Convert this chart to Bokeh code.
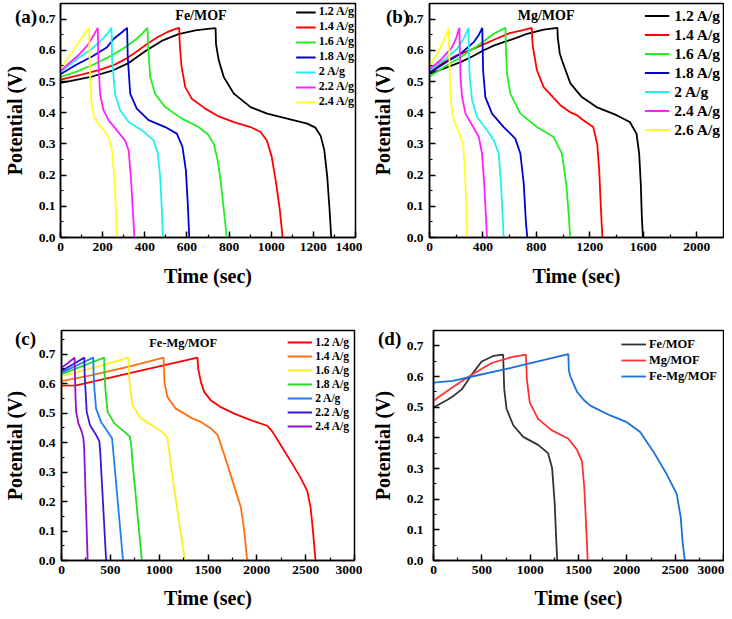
from bokeh.plotting import figure
from bokeh.models import Legend, LegendItem, Label, Div, FixedTicker, PrintfTickFormatter, Range1d
from bokeh.layouts import column, row
from bokeh.embed import file_html
from bokeh.resources import INLINE

FONT = "Liberation Serif"

# ---------------- (a) Fe/MOF ----------------
fe_labels = ["1.2 A/g", "1.4 A/g", "1.6 A/g", "1.8 A/g", "2 A/g", "2.2 A/g", "2.4 A/g"]
fe_t_12 = [0, 50, 150, 250, 320, 400, 480, 560, 640, 700, 736, 738, 751, 775, 823, 902, 981, 1076, 1171, 1210, 1235, 1252, 1266, 1277, 1285]
fe_v_12 = [0.496, 0.502, 0.516, 0.536, 0.558, 0.596, 0.630, 0.652, 0.664, 0.669, 0.671, 0.62, 0.568, 0.514, 0.461, 0.418, 0.397, 0.381, 0.365, 0.352, 0.325, 0.28, 0.194, 0.088, 0.0]
fe_t_14 = [0, 100, 190, 260, 316, 354, 411, 460, 506, 540, 563, 566, 574, 592, 623, 687, 745, 823, 902, 950, 980, 1002, 1022, 1041, 1054]
fe_v_14 = [0.506, 0.522, 0.538, 0.555, 0.575, 0.592, 0.620, 0.642, 0.658, 0.667, 0.672, 0.62, 0.55, 0.482, 0.445, 0.413, 0.39, 0.37, 0.354, 0.338, 0.31, 0.26, 0.18, 0.088, 0.0]
fe_t_16 = [0, 70, 149, 228, 307, 362, 390, 413, 416, 426, 449, 497, 576, 655, 700, 728, 748, 762, 778, 789]
fe_v_16 = [0.514, 0.530, 0.552, 0.578, 0.610, 0.637, 0.655, 0.672, 0.61, 0.514, 0.460, 0.418, 0.381, 0.354, 0.33, 0.30, 0.24, 0.17, 0.07, 0.0]
fe_t_18 = [0, 70, 150, 221, 253, 290, 316, 319, 331, 362, 418, 497, 552, 579, 595, 604, 611]
fe_v_18 = [0.523, 0.552, 0.58, 0.61, 0.637, 0.657, 0.672, 0.58, 0.46, 0.413, 0.376, 0.354, 0.333, 0.29, 0.216, 0.109, 0.0]
fe_t_20 = [0, 70, 149, 196, 225, 242, 245, 259, 283, 323, 386, 441, 462, 473, 481, 486]
fe_v_20 = [0.530, 0.568, 0.605, 0.634, 0.655, 0.672, 0.57, 0.46, 0.408, 0.37, 0.344, 0.312, 0.269, 0.194, 0.088, 0.0]
fe_t_22 = [0, 38, 85, 133, 157, 177, 180, 188, 204, 228, 267, 307, 323, 334, 343, 351]
fe_v_22 = [0.534, 0.557, 0.584, 0.62, 0.648, 0.672, 0.56, 0.46, 0.408, 0.376, 0.344, 0.31, 0.28, 0.194, 0.09, 0.0]
fe_t_24 = [0, 38, 77, 109, 136, 139, 146, 157, 172, 204, 228, 244, 255, 263, 267]
fe_v_24 = [0.541, 0.578, 0.616, 0.648, 0.672, 0.55, 0.44, 0.395, 0.37, 0.345, 0.322, 0.28, 0.194, 0.088, 0.0]
fe_xticks = [0, 200, 400, 600, 800, 1000, 1200, 1400]
fe_xminor = [100, 300, 500, 700, 900, 1100, 1300]

# ---------------- (b) Mg/MOF ----------------
mg_labels = ["1.2 A/g", "1.4 A/g", "1.6 A/g", "1.8 A/g", "2 A/g", "2.4 A/g", "2.6 A/g"]
mg_t_12 = [0, 100, 232, 320, 406, 480, 555, 650, 730, 854, 957, 960, 975, 991, 1053, 1140, 1250, 1400, 1499, 1549, 1569, 1581, 1589, 1597]
mg_v_12 = [0.525, 0.54, 0.562, 0.58, 0.60, 0.615, 0.626, 0.64, 0.653, 0.666, 0.672, 0.64, 0.59, 0.568, 0.495, 0.45, 0.418, 0.392, 0.37, 0.333, 0.269, 0.173, 0.066, 0.0]
mg_t_14 = [0, 100, 200, 300, 400, 500, 600, 700, 765, 768, 774, 804, 854, 979, 1051, 1103, 1151, 1225, 1255, 1270, 1283, 1294]
mg_v_14 = [0.53, 0.56, 0.583, 0.60, 0.618, 0.637, 0.655, 0.665, 0.672, 0.64, 0.61, 0.536, 0.482, 0.424, 0.402, 0.392, 0.376, 0.354, 0.30, 0.216, 0.088, 0.0]
mg_t_16 = [0, 107, 232, 300, 381, 481, 530, 568, 572, 580, 605, 680, 804, 929, 991, 1023, 1043, 1053]
mg_v_16 = [0.515, 0.546, 0.578, 0.598, 0.621, 0.653, 0.664, 0.672, 0.60, 0.525, 0.461, 0.397, 0.354, 0.322, 0.269, 0.173, 0.066, 0.0]
mg_t_18 = [0, 107, 232, 331, 370, 395, 398, 401, 418, 468, 555, 642, 680, 705, 722, 732]
mg_v_18 = [0.527, 0.557, 0.589, 0.626, 0.65, 0.672, 0.60, 0.536, 0.45, 0.397, 0.354, 0.317, 0.269, 0.173, 0.045, 0.0]
mg_t_20 = [0, 107, 207, 256, 292, 295, 301, 319, 356, 431, 481, 518, 535, 550, 555]
mg_v_20 = [0.535, 0.568, 0.605, 0.637, 0.672, 0.60, 0.514, 0.44, 0.386, 0.344, 0.312, 0.269, 0.173, 0.045, 0.0]
mg_t_24 = [0, 82, 169, 200, 224, 227, 232, 244, 269, 319, 369, 393, 411, 426, 430]
mg_v_24 = [0.54, 0.568, 0.61, 0.64, 0.672, 0.60, 0.514, 0.45, 0.397, 0.36, 0.322, 0.269, 0.162, 0.034, 0.0]
mg_t_26 = [0, 57, 107, 130, 144, 147, 152, 162, 182, 219, 251, 264, 274, 281]
mg_v_26 = [0.55, 0.589, 0.632, 0.655, 0.672, 0.60, 0.514, 0.43, 0.376, 0.338, 0.30, 0.226, 0.109, 0.0]
mg_xticks = [0, 400, 800, 1200, 1600, 2000]
mg_xminor = [200, 600, 1000, 1400, 1800]

# ---------------- (c) Fe-Mg/MOF ----------------
fm_labels = ["1.2 A/g", "1.4 A/g", "1.6 A/g", "1.8 A/g", "2 A/g", "2.2 A/g", "2.4 A/g"]
fm_t_12 = [0, 150, 500, 1000, 1392, 1400, 1428, 1462, 1530, 1632, 1768, 1938, 2108, 2159, 2244, 2346, 2448, 2516, 2550, 2574, 2591, 2601]
fm_v_12 = [0.593, 0.594, 0.62, 0.658, 0.688, 0.65, 0.604, 0.571, 0.543, 0.52, 0.498, 0.476, 0.457, 0.437, 0.392, 0.337, 0.281, 0.236, 0.181, 0.103, 0.036, 0.0]
fm_t_14 = [0, 300, 700, 1045, 1050, 1054, 1085, 1170, 1340, 1428, 1530, 1598, 1666, 1751, 1836, 1870, 1897, 1904]
fm_v_14 = [0.608, 0.628, 0.658, 0.688, 0.65, 0.604, 0.554, 0.515, 0.482, 0.47, 0.448, 0.426, 0.359, 0.27, 0.181, 0.103, 0.013, 0.0]
fm_t_16 = [0, 340, 685, 690, 700, 728, 813, 949, 1051, 1085, 1119, 1187, 1238, 1265]
fm_v_16 = [0.624, 0.655, 0.688, 0.64, 0.593, 0.526, 0.482, 0.454, 0.431, 0.415, 0.326, 0.169, 0.058, 0.0]
fm_t_18 = [0, 220, 437, 440, 449, 473, 541, 643, 700, 714, 728, 823]
fm_v_18 = [0.632, 0.66, 0.688, 0.64, 0.582, 0.504, 0.465, 0.437, 0.42, 0.39, 0.33, 0.0]
fm_t_20 = [0, 160, 325, 329, 337, 354, 405, 473, 517, 530, 630]
fm_v_20 = [0.637, 0.662, 0.688, 0.63, 0.582, 0.515, 0.47, 0.437, 0.415, 0.37, 0.0]
fm_t_22 = [0, 115, 233, 237, 245, 258, 292, 354, 388, 398, 457]
fm_v_22 = [0.643, 0.665, 0.688, 0.63, 0.582, 0.504, 0.459, 0.426, 0.404, 0.36, 0.0]
fm_t_24 = [0, 60, 134, 138, 143, 150, 173, 207, 224, 232, 268]
fm_v_24 = [0.654, 0.668, 0.688, 0.62, 0.56, 0.504, 0.465, 0.437, 0.415, 0.38, 0.0]
fm_xticks = [0, 500, 1000, 1500, 2000, 2500, 3000]
fm_xminor = [250, 750, 1250, 1750, 2250, 2750]

# ---------------- (d) comparison at 1.2 A/g ----------------
cmp_labels = ["Fe/MOF", "Mg/MOF", "Fe-Mg/MOF"]
cmp_t_fe = [0, 154, 220, 292, 395, 498, 618, 721, 725, 732, 756, 825, 928, 1082, 1185, 1227, 1254, 1268, 1280]
cmp_v_fe = [0.499, 0.526, 0.54, 0.558, 0.606, 0.649, 0.667, 0.671, 0.62, 0.558, 0.494, 0.441, 0.403, 0.377, 0.35, 0.302, 0.185, 0.078, 0.0]
cmp_t_mg = [0, 189, 395, 601, 807, 955, 960, 966, 996, 1082, 1220, 1392, 1485, 1536, 1560, 1578, 1595]
cmp_v_mg = [0.521, 0.563, 0.606, 0.644, 0.663, 0.671, 0.64, 0.59, 0.515, 0.462, 0.425, 0.398, 0.361, 0.323, 0.238, 0.121, 0.0]
cmp_t_fm = [0, 200, 400, 800, 1395, 1400, 1416, 1450, 1485, 1550, 1622, 1828, 2000, 2138, 2275, 2413, 2516, 2557, 2578, 2600]
cmp_v_fm = [0.58, 0.586, 0.6, 0.628, 0.673, 0.62, 0.6, 0.575, 0.55, 0.525, 0.505, 0.473, 0.451, 0.419, 0.355, 0.281, 0.217, 0.142, 0.057, 0.0]
cmp_xticks = [0, 500, 1000, 1500, 2000, 2500, 3000]
cmp_xminor = [250, 750, 1250, 1750, 2250, 2750]

y_ticks = [0.0, 0.1, 0.2, 0.3, 0.4, 0.5, 0.6, 0.7]
y_minor = [0.05, 0.15, 0.25, 0.35, 0.45, 0.55, 0.65, 0.75]

fe_colors = ["#000000", "#FF0000", "#22EE22", "#0000D0", "#22F0F0", "#FF22FF", "#FFFF22"]
mg_colors = ["#000000", "#FF0000", "#22EE22", "#0000D0", "#22F0F0", "#FF22FF", "#FFFF22"]
fm_colors = ["#FF0000", "#FF7010", "#FFEE22", "#22DD22", "#2080F0", "#3818D0", "#9010D0"]
cmp_colors = ["#333333", "#FF3030", "#1A70D8"]


def make_panel(series, labels, colors, width, height, borders, x_end, y_end,
               xticks, xminor, ylab_standoff, xtitle_standoff, legend_font, legend_row,
               glyph_w, standoff, margin):
    left, right, top, bottom = borders
    p = figure(width=width, height=height, output_backend="svg", toolbar_location=None,
               x_range=Range1d(0, x_end), y_range=Range1d(0, y_end),
               min_border_left=left, min_border_right=right,
               min_border_top=top, min_border_bottom=bottom,
               background_fill_color="white", border_fill_color="white")
    p.xgrid.visible = False
    p.ygrid.visible = False
    p.outline_line_color = "black"
    p.outline_line_width = 1.5
    p.outline_line_alpha = 1.0
    items = []
    for (t, v), lab, col in zip(series, labels, colors):
        r = p.line(t, v, line_color=col, line_width=1.8)
        items.append(LegendItem(label=lab, renderers=[r]))
    p.xaxis.ticker = FixedTicker(ticks=xticks, minor_ticks=xminor)
    p.yaxis.ticker = FixedTicker(ticks=y_ticks, minor_ticks=y_minor)
    p.yaxis.formatter = PrintfTickFormatter(format="%.1f")
    for ax in (p.xaxis[0], p.yaxis[0]):
        ax.axis_line_width = 1.5
        ax.axis_line_color = "black"
        ax.major_tick_in = 6
        ax.major_tick_out = 0
        ax.minor_tick_in = 3
        ax.minor_tick_out = 0
        ax.major_tick_line_width = 1.5
        ax.minor_tick_line_width = 1.2
        ax.major_label_text_font = FONT
        ax.major_label_text_font_style = "bold"
        ax.major_label_text_font_size = "13.5px"
        ax.major_label_text_color = "black"
        ax.axis_label_text_font = FONT
        ax.axis_label_text_font_style = "bold"
        ax.axis_label_text_font_size = "20px"
        ax.axis_label_text_color = "black"
    p.xaxis.axis_label = "Time (sec)"
    p.yaxis.axis_label = "Potential (V)"
    p.xaxis.major_label_standoff = 5
    p.xaxis.axis_label_standoff = xtitle_standoff
    p.yaxis.major_label_standoff = ylab_standoff
    p.yaxis.axis_label_standoff = 10
    legend = Legend(items=items, location="top_right", margin=margin, padding=0, spacing=0,
                    label_height=legend_row, glyph_height=legend_row, glyph_width=glyph_w,
                    label_standoff=standoff, label_text_font=FONT,
                    label_text_font_style="bold", label_text_font_size=legend_font,
                    label_text_color="black", border_line_alpha=0, background_fill_alpha=0)
    p.add_layout(legend)
    return p


def add_name(p, x, y, text, size):
    p.add_layout(Label(x=x, y=y, text=text, text_font=FONT, text_font_style="bold",
                       text_font_size=size, text_align="left", text_baseline="middle",
                       text_color="black"))


def tag(text, left, top):
    return Div(text=text, width=36, height=22,
               styles={"position": "absolute", "left": f"{left}px", "top": f"{top}px",
                       "font-family": FONT, "font-weight": "bold", "font-size": "19px",
                       "line-height": "19px", "color": "black", "z-index": "10",
                       "white-space": "nowrap"})


fe_series = [(fe_t_12, fe_v_12), (fe_t_14, fe_v_14), (fe_t_16, fe_v_16), (fe_t_18, fe_v_18),
             (fe_t_20, fe_v_20), (fe_t_22, fe_v_22), (fe_t_24, fe_v_24)]
mg_series = [(mg_t_12, mg_v_12), (mg_t_14, mg_v_14), (mg_t_16, mg_v_16), (mg_t_18, mg_v_18),
             (mg_t_20, mg_v_20), (mg_t_24, mg_v_24), (mg_t_26, mg_v_26)]
fm_series = [(fm_t_12, fm_v_12), (fm_t_14, fm_v_14), (fm_t_16, fm_v_16), (fm_t_18, fm_v_18),
             (fm_t_20, fm_v_20), (fm_t_22, fm_v_22), (fm_t_24, fm_v_24)]
cmp_series = [(cmp_t_fe, cmp_v_fe), (cmp_t_mg, cmp_v_mg), (cmp_t_fm, cmp_v_fm)]

pa = make_panel(fe_series, fe_labels, fe_colors, 362, 296, (60, 7, 3, 59), 1400, 0.75,
                fe_xticks, fe_xminor, 5, 11, "12px", 14, 20, 3, 1)
add_name(pa, 545, 0.712, "Fe/MOF", "14px")

pb = make_panel(mg_series, mg_labels, mg_colors, 362, 296, (67, 1, 3, 59), 2200, 0.75,
                mg_xticks, mg_xminor, 6, 11, "15.5px", 19, 25, 5, 3)
add_name(pb, 660, 0.712, "Mg/MOF", "14px")

pc = make_panel(fm_series, fm_labels, fm_colors, 362, 315, (60, 8, 34, 51), 3000, 0.78,
                fm_xticks, fm_xminor, 6, 10, "11.5px", 14, 25, 3, 5)
add_name(pc, 898, 0.736, "Fe-Mg/MOF", "12.5px")

pd = make_panel(cmp_series, cmp_labels, cmp_colors, 362, 315, (71, 1, 34, 51), 3000, 0.75,
                cmp_xticks, cmp_xminor, 10, 10, "12.5px", 16, 25, 3, 6)

layout = column(row(pa, pb), row(pc, pd),
                tag("(a)", 10, 2), tag("(b)", 381, 2), tag("(c)", 10, 324), tag("(d)", 373, 324))
open("out.html", "w").write(file_html(layout, INLINE))
